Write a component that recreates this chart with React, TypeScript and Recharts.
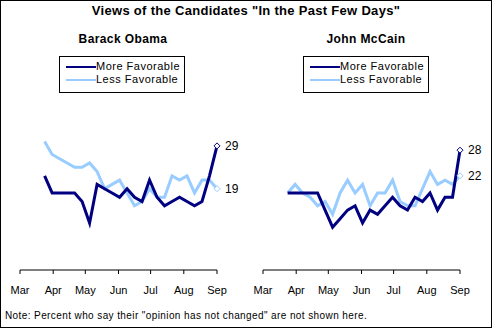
import { LineChart, Line, XAxis, YAxis } from "recharts"

// days since Mar 1 for each weekly reading (Mar 24 ... Sep 1)
const days = [23, 30, 37, 44, 51, 58, 65, 72, 79, 86, 93, 100, 107, 114, 121, 128, 135, 142, 149, 156, 163, 170, 177, 184]

const monthTicks = [0, 31, 61, 92, 122, 153, 184]
const monthNames = ["Mar", "Apr", "May", "Jun", "Jul", "Aug", "Sep"]

const obamaMore = [22, 18, 18, 18, 18, 16, 11, 20, 19, 18, 17, 19, 17, 16, 21, 17, 15, 16, 17, 16, 15, 16, 22, 29]
const obamaLess = [30, 27, 26, 25, 24, 24, 25, 23, 19, 20, 21, 18, 15, 16, 19, 17, 17, 22, 21, 22, 18, 21, 21, 19]

const mccainMore = [18, 18, 18, 18, 18, 14, 10, 12, 14, 15, 11, 14, 13, 15, 17, 15, 14, 17, 16, 18, 14, 17, 17, 28]
const mccainLess = [18, 20, 18, 17, 15, 16, 13, 18, 21, 18, 20, 15, 18, 18, 21, 16, 15, 15, 19, 23, 20, 21, 20, 22]

const DARK = "#000080"
const LIGHT = "#99ccff"
const FONT = "'Liberation Sans', Arial, sans-serif"

const lastIdx = days.length - 1

function endDot(color: string) {
  return (props: any) => {
    const { cx, cy, index } = props
    if (index !== lastIdx) return <g key={`d${index}`} />
    const r = 3
    return (
      <polygon
        key={`d${index}`}
        points={`${cx},${cy - r} ${cx + r},${cy} ${cx},${cy + r} ${cx - r},${cy}`}
        fill="#fff"
        stroke={color}
        strokeWidth={1}
      />
    )
  }
}

function endLabel(props: any) {
  const { x, y, index, value } = props
  if (index !== lastIdx) return null
  return (
    <text x={x + 8} y={y} dy={4} fontSize={12} fontFamily={FONT} fill="#000">
      {value}
    </text>
  )
}

function LegendBox({ left }: { left: number }) {
  return (
    <div
      style={{
        position: "absolute",
        left,
        top: 55,
        width: 126,
        height: 37,
        border: "1px solid #000",
        boxSizing: "border-box",
        background: "#fff",
        fontSize: 11,
        letterSpacing: 0.5,
      }}
    >
      <div style={{ position: "absolute", left: 6, top: 9, width: 30, height: 2, background: DARK }} />
      <div style={{ position: "absolute", left: 36, top: 3, lineHeight: "13px" }}>More Favorable</div>
      <div style={{ position: "absolute", left: 6, top: 22, width: 30, height: 2, background: LIGHT }} />
      <div style={{ position: "absolute", left: 36, top: 16, lineHeight: "13px" }}>Less Favorable</div>
    </div>
  )
}

function Panel({ more, less, left, mLeft, mRight }: { more: number[]; less: number[]; left: number; mLeft: number; mRight: number }) {
  const data = days.map((d, i) => ({ day: d, more: more[i], less: less[i] }))
  return (
    <div style={{ position: "absolute", left, top: 0 }}>
      <LineChart width={246} height={328} data={data} margin={{ top: 55, left: mLeft, right: mRight, bottom: 19 }}>
        <XAxis
          dataKey="day"
          type="number"
          domain={[0, 184]}
          ticks={monthTicks}
          tickFormatter={(v) => monthNames[monthTicks.indexOf(v)]}
          axisLine={{ stroke: "#000" }}
          tickLine={{ stroke: "#000" }}
          tickSize={4}
          tickMargin={12}
          height={40}
          interval={0}
          tick={{ fill: "#000", fontSize: 11, fontFamily: FONT }}
        />
        <YAxis domain={[0, 50]} width={0} tick={false} tickLine={false} axisLine={{ stroke: "#000" }} />
        <Line
          dataKey="less"
          stroke={LIGHT}
          strokeWidth={3}
          dot={endDot(LIGHT)}
          label={endLabel}
          isAnimationActive={false}
        />
        <Line
          dataKey="more"
          stroke={DARK}
          strokeWidth={3}
          dot={endDot(DARK)}
          label={endLabel}
          isAnimationActive={false}
        />
      </LineChart>
    </div>
  )
}

export default function App() {
  return (
    <div
      style={{
        position: "absolute",
        left: 0,
        top: 0,
        width: 492,
        height: 328,
        border: "1px solid #000",
        boxSizing: "border-box",
        background: "#fff",
        fontFamily: FONT,
        color: "#000",
      }}
    >
      <div style={{ position: "absolute", left: -1, top: 2, width: 492, textAlign: "center", fontWeight: "bold", fontSize: 13, letterSpacing: 0.3, lineHeight: "15px" }}>
        Views of the Candidates "In the Past Few Days"
      </div>
      <div style={{ position: "absolute", left: 72, top: 31, width: 100, textAlign: "center", fontWeight: "bold", fontSize: 12, letterSpacing: 0.4, lineHeight: "14px" }}>
        Barack Obama
      </div>
      <div style={{ position: "absolute", left: 315, top: 31, width: 100, textAlign: "center", fontWeight: "bold", fontSize: 12, letterSpacing: 0.4, lineHeight: "14px" }}>
        John McCain
      </div>
      <Panel more={obamaMore} less={obamaLess} left={-1} mLeft={20} mRight={29} />
      <Panel more={mccainMore} less={mccainLess} left={245} mLeft={17} mRight={32} />
      <LegendBox left={58} />
      <LegendBox left={302} />
      <div style={{ position: "absolute", left: 4, top: 309, fontSize: 10, letterSpacing: 0.4, lineHeight: "12px" }}>
        Note: Percent who say their "opinion has not changed" are not shown here.
      </div>
    </div>
  )
}
